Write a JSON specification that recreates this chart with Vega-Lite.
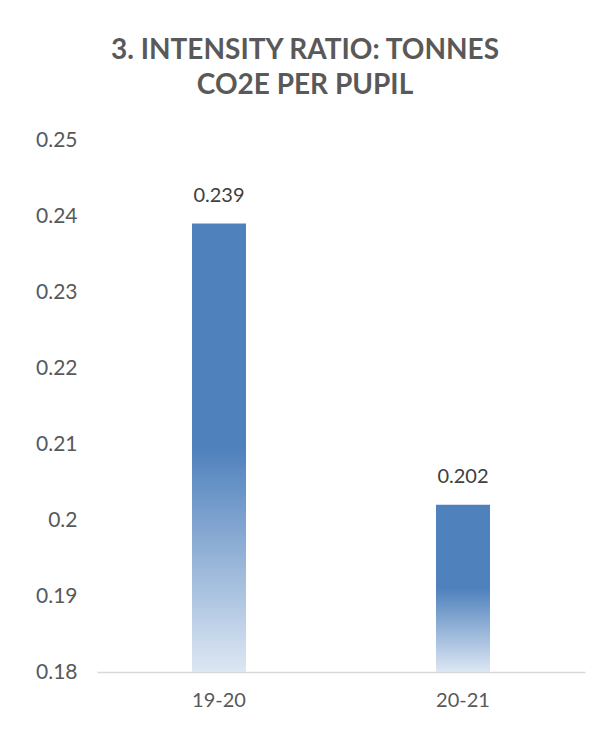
{
  "$schema": "https://vega.github.io/schema/vega-lite/v6.json",
  "width": 488,
  "height": 532,
  "autosize": {"type": "none"},
  "padding": {"left": 97, "top": 140, "right": 27, "bottom": 59},
  "background": "white",
  "config": {
    "view": {"stroke": null},
    "font": "Lato"
  },
  "title": {
    "text": ["3. INTENSITY RATIO: TONNES", "CO2E PER PUPIL"],
    "fontSize": 28,
    "fontWeight": "bold",
    "color": "#595959",
    "font": "Lato",
    "lineHeight": 35,
    "anchor": "middle",
    "dx": -36,
    "offset": 29
  },
  "data": {
    "values": [
      {"year": "19-20", "value": 0.239},
      {"year": "20-21", "value": 0.202}
    ]
  },
  "encoding": {
    "x": {
      "field": "year",
      "type": "nominal",
      "scale": {"paddingInner": 0, "paddingOuter": 0},
      "axis": {
        "title": null,
        "labelAngle": 0,
        "ticks": false,
        "domainColor": "#d9d9d9",
        "domainWidth": 1.5,
        "labelFontSize": 20,
        "labelColor": "#595959",
        "labelPadding": 18,
        "labelFont": "Lato"
      }
    }
  },
  "layer": [
    {
      "mark": {
        "type": "bar",
        "width": 54,
        "fill": {
          "gradient": "linear",
          "x1": 0, "y1": 0, "x2": 0, "y2": 1,
          "stops": [
            {"offset": 0, "color": "#4f81bd"},
            {"offset": 0.5, "color": "#4f81bd"},
            {"offset": 1, "color": "#dde7f3"}
          ]
        }
      },
      "encoding": {
        "y": {
          "field": "value",
          "type": "quantitative",
          "scale": {"domain": [0.18, 0.25], "nice": false, "zero": false},
          "axis": {
            "title": null,
            "values": [0.18, 0.19, 0.2, 0.21, 0.22, 0.23, 0.24, 0.25],
            "format": "~g",
            "grid": false,
            "ticks": false,
            "domain": false,
            "labelFontSize": 21,
            "labelColor": "#595959",
            "labelPadding": 20,
            "labelFont": "Lato"
          }
        },
        "y2": {"datum": 0.18}
      }
    },
    {
      "mark": {
        "type": "text",
        "baseline": "bottom",
        "dy": -18,
        "fontSize": 20,
        "color": "#404040",
        "font": "Lato"
      },
      "encoding": {
        "y": {"field": "value", "type": "quantitative"},
        "text": {"field": "value", "type": "quantitative", "format": ".3f"}
      }
    }
  ]
}
